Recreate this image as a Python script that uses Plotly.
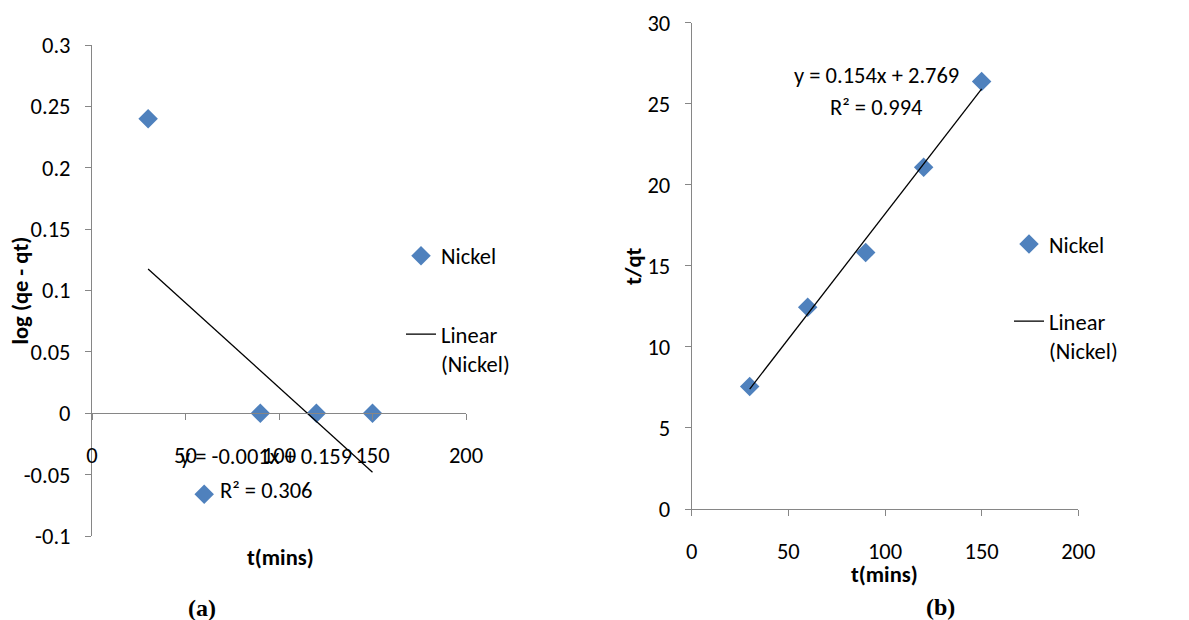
import numpy as np
import plotly.graph_objects as go

# ---------------- data ----------------
t_a = [30, 60, 90, 120, 150]
logq_a = [0.240, -0.066, 0.0, 0.0, 0.0]
t_b = [30, 60, 90, 120, 150]
tqt_b = [7.55, 12.45, 15.82, 21.09, 26.38]

xa_ticks = [0, 50, 100, 150, 200]
xa_labels = ["0", "50", "100", "150", "200"]
ya_ticks = [-0.1, -0.05, 0, 0.05, 0.1, 0.15, 0.2, 0.25, 0.3]
ya_labels = ["-0.1", "-0.05", "0", "0.05", "0.1", "0.15", "0.2", "0.25", "0.3"]
yb_ticks = [0, 5, 10, 15, 20, 25, 30]
yb_labels = ["0", "5", "10", "15", "20", "25", "30"]

eq_a = "y = -0.001x + 0.159"
r2_a = "R² = 0.306"
eq_b = "y = 0.154x + 2.769"
r2_b = "R² = 0.994"

# ---------------- layout helpers ----------------
OFF = 8  # default page body margin
W, H = 1189 - OFF, 620 - OFF
def px(x):
    return (x - OFF) / W
def py(y):
    return 1 - (y - OFF) / H

FONT = "Carlito, Calibri, Lato, sans-serif"
FS = 22.5
AX = "#868686"
BLUE = "#4F81BD"

# trendlines from least squares fits of the data
ka, ba = np.polyfit(t_a, logq_a, 1)
kb, bb = np.polyfit(t_b, tqt_b, 1)
xa_line = [min(t_a), max(t_a)]
xb_line = [min(t_b), max(t_b)]

fig = go.Figure()
fig.add_trace(go.Scatter(x=t_a, y=logq_a, mode="markers", name="Nickel",
                         marker=dict(symbol="diamond", size=15, color=BLUE),
                         xaxis="x", yaxis="y", legend="legend"))
fig.add_trace(go.Scatter(x=xa_line, y=[ka * v + ba for v in xa_line], mode="lines",
                         name="Linear<br>(Nickel)", line=dict(color="black", width=1.3),
                         xaxis="x", yaxis="y", legend="legend2"))
fig.add_trace(go.Scatter(x=t_b, y=tqt_b, mode="markers", name="Nickel",
                         marker=dict(symbol="diamond", size=15, color=BLUE),
                         xaxis="x2", yaxis="y2", legend="legend3"))
fig.add_trace(go.Scatter(x=xb_line, y=[kb * v + bb for v in xb_line], mode="lines",
                         name="Linear<br>(Nickel)", line=dict(color="black", width=1.3),
                         xaxis="x2", yaxis="y2", legend="legend4"))

ya_dom = [py(536), py(45)]
yb_dom = [py(509), py(22.7)]
ya_range = [-0.1, 0.3]
xpos_a = ya_dom[0] + (ya_dom[1] - ya_dom[0]) * (0 - ya_range[0]) / (ya_range[1] - ya_range[0])

common_x = dict(showline=True, linecolor=AX, linewidth=1, ticks="outside", tickcolor=AX,
                ticklen=6, showgrid=False, zeroline=False, automargin=False,
                tickfont=dict(family=FONT, size=FS, color="black"), ticklabelstandoff=16)
common_y = dict(showline=True, linecolor=AX, linewidth=1, ticks="outside", tickcolor=AX,
                ticklen=6, showgrid=False, zeroline=False, automargin=False,
                tickfont=dict(family=FONT, size=FS, color="black"), ticklabelstandoff=10)

fig.update_layout(
    template="none",
    width=W, height=H, margin=dict(l=0, r=0, t=0, b=0, autoexpand=False),
    paper_bgcolor="white", plot_bgcolor="white", showlegend=True,
    xaxis=dict(domain=[px(92), px(466)], range=[0, 200], tickvals=xa_ticks, ticktext=xa_labels,
               anchor="free", position=xpos_a, **common_x),
    yaxis=dict(domain=ya_dom, range=ya_range, tickvals=ya_ticks, ticktext=ya_labels,
               anchor="x", **common_y),
    xaxis2=dict(domain=[px(691.7), px(1078.3)], range=[0, 200], tickvals=xa_ticks, ticktext=xa_labels,
                anchor="y2", **common_x),
    yaxis2=dict(domain=yb_dom, range=[0, 30], tickvals=yb_ticks, ticktext=yb_labels,
                anchor="x2", **common_y),
)

leg = dict(xanchor="left", yanchor="middle", bgcolor="rgba(0,0,0,0)", borderwidth=0,
           font=dict(family=FONT, size=FS, color="black"), itemwidth=30, valign="top")
fig.update_layout(
    legend=dict(x=px(401), y=py(256), **leg),
    legend2=dict(x=px(401), y=py(349), **leg),
    legend3=dict(x=px(1009), y=py(244.3), **leg),
    legend4=dict(x=px(1009), y=py(336), **leg),
)

def ann(text, x, y, size=FS, bold=False, family=FONT, angle=0):
    fig.add_annotation(text=f"<b>{text}</b>" if bold else text, x=px(x), y=py(y),
                       xref="paper", yref="paper", showarrow=False, textangle=angle,
                       xanchor="center", yanchor="middle",
                       font=dict(family=family, size=size, color="black"))

ann(eq_a, 266, 456.7)
ann(r2_a, 266, 490)
ann(eq_b, 876.3, 75)
ann(r2_b, 876.3, 107.3)
ann("log (qe - qt)", 20, 290.5, bold=True, angle=-90)
ann("t(mins)", 280, 557, bold=True)
ann("t/qt", 633, 266, bold=True, angle=-90)
ann("t(mins)", 884.3, 574, bold=True)
ann("(a)", 201.7, 608, size=24, bold=True, family="Liberation Serif, Times New Roman, serif")
ann("(b)", 940, 607, size=24, bold=True, family="Liberation Serif, Times New Roman, serif")

fig.write_html("out.html")
